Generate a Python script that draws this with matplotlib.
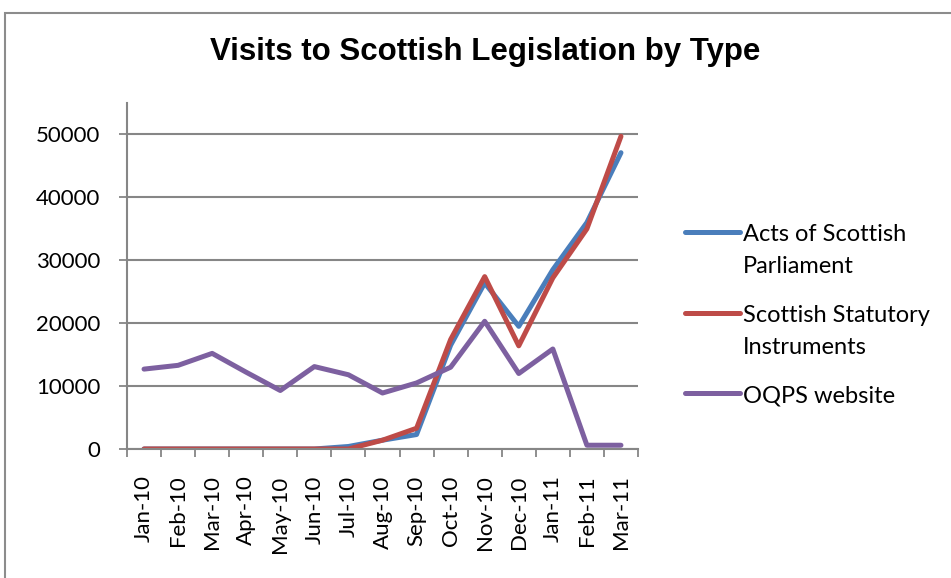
import matplotlib.pyplot as plt
import numpy as np
from matplotlib.patches import Rectangle
from matplotlib.lines import Line2D

months = ['Jan-10', 'Feb-10', 'Mar-10', 'Apr-10', 'May-10', 'Jun-10', 'Jul-10', 'Aug-10',
          'Sep-10', 'Oct-10', 'Nov-10', 'Dec-10', 'Jan-11', 'Feb-11', 'Mar-11']
acts = [0, 0, 0, 0, 0, 0, 400, 1400, 2300, 16500, 26400, 19500, 28500, 36000, 47100]
ssi = [0, 0, 0, 0, 0, 0, 0, 1400, 3300, 17400, 27400, 16400, 27200, 35000, 49700]
oqps = [12700, 13300, 15200, 12200, 9300, 13100, 11800, 8900, 10500, 13000, 20300, 12000, 15900, 600, 600]
series_names = ['Acts of Scottish\nParliament', 'Scottish Statutory\nInstruments', 'OQPS website']
colors = ['#4A7EBB', '#BE4B48', '#7D60A0']
yticks = [0, 10000, 20000, 30000, 40000, 50000]

grid_col = '#868686'
W, H = 951, 578

fig = plt.figure(figsize=(W / 100, H / 100), dpi=100)
ax = fig.add_axes([127 / W, 1 - 449 / H, (638 - 127) / W, (449 - 103) / H])

x = np.arange(len(months))
for vals, name, c in zip([acts, ssi, oqps], series_names, colors):
    ax.plot(x, vals, color=c, lw=3.6, label=name, solid_capstyle='round', solid_joinstyle='round')

ax.set_xlim(-0.5, len(months) - 0.5)
ax.set_ylim(0, 55000)
ax.set_yticks(yticks)
ax.set_yticklabels([str(v) for v in yticks], fontsize=16, family='Lato')
ax.yaxis.grid(True, color=grid_col, lw=1.5)
ax.set_axisbelow(True)

# category boundaries carry the tick marks, labels sit at centres
ax.set_xticks(np.arange(-0.5, len(months)), labels=[''] * (len(months) + 1))
ax.set_xticks(x, labels=months, minor=True)
ax.tick_params(axis='x', which='minor', length=0, pad=19, labelsize=16, labelrotation=90)
for lbl in ax.get_xticklabels(minor=True):
    lbl.set_family('Lato')
ax.tick_params(axis='x', which='major', length=6, width=1.3, color=grid_col)
ax.tick_params(axis='y', length=6, width=1.3, color=grid_col, pad=13)

for s in ['top', 'right']:
    ax.spines[s].set_visible(False)
for s in ['left', 'bottom']:
    ax.spines[s].set_color(grid_col)
    ax.spines[s].set_linewidth(1.5)

fig.text(485 / W, 1 - 52 / H, 'Visits to Scottish Legislation by Type', ha='center', va='center',
         fontsize=22.5, fontweight='bold', family='Liberation Sans')

# legend drawn by hand so the key line sits on the first text line, as in Excel
key_y = [232, 313, 393]
for name, c, ky in zip(series_names, colors, key_y):
    fig.add_artist(Line2D([685 / W, 740 / W], [1 - ky / H] * 2, color=c, lw=3.6,
                          solid_capstyle='round', transform=fig.transFigure))
    for i, part in enumerate(name.split('\n')):
        fig.text(743 / W, 1 - (ky + 9 + 32 * i) / H, part, ha='left', va='baseline',
                 fontsize=17, family='Lato')

# outer chart frame
fig.patches.append(Rectangle((5 / W, -0.1), 1.2, 1 - 13 / H + 0.1, transform=fig.transFigure,
                             fill=False, edgecolor='#8c8c8c', lw=1.5))

fig.savefig('out.png', dpi=100)
